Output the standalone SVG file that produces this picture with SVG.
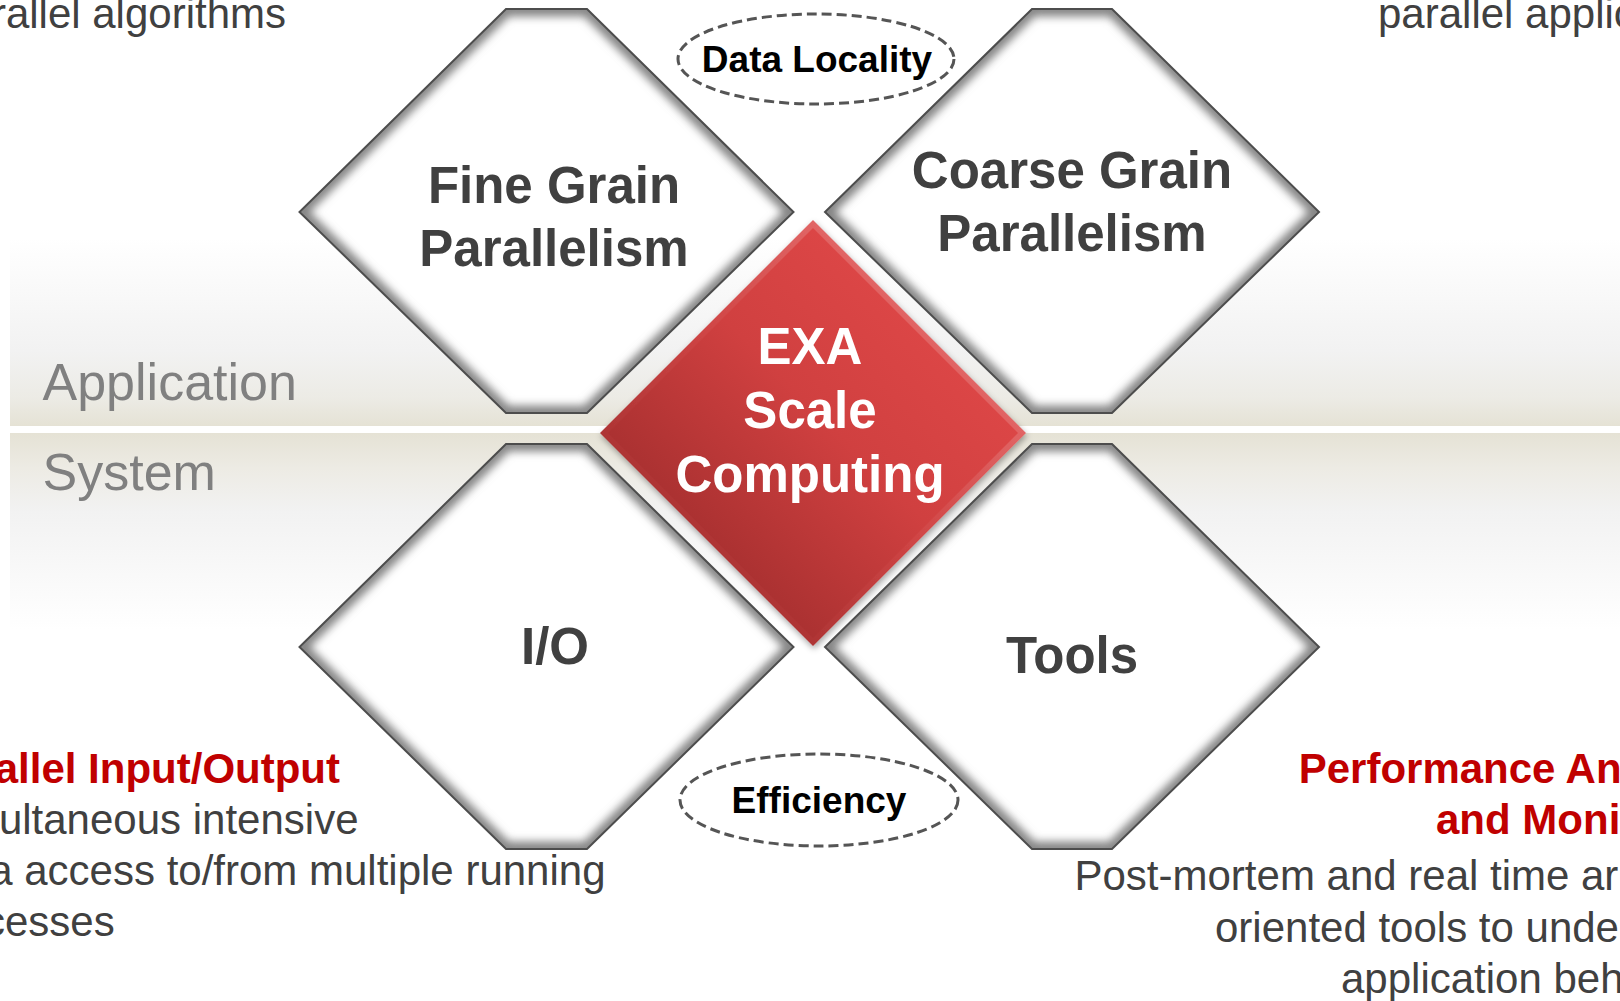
<svg xmlns="http://www.w3.org/2000/svg" width="1620" height="1001" viewBox="0 0 1620 1001">
<defs>
<linearGradient id="bandTop" x1="0" y1="0" x2="0" y2="1">
<stop offset="0" stop-color="#ffffff"/>
<stop offset="0.6" stop-color="#f2f2f2"/>
<stop offset="0.85" stop-color="#ecebe5"/>
<stop offset="1" stop-color="#e5e2d5"/>
</linearGradient>
<linearGradient id="bandBot" x1="0" y1="0" x2="0" y2="1">
<stop offset="0" stop-color="#e5e2d5"/>
<stop offset="0.18" stop-color="#edebe4"/>
<stop offset="0.4" stop-color="#f2f2f2"/>
<stop offset="1" stop-color="#ffffff"/>
</linearGradient>
<linearGradient id="redMain" x1="0.8" y1="0.2" x2="0.2" y2="0.8">
<stop offset="0" stop-color="#de4747"/>
<stop offset="0.45" stop-color="#d04040"/>
<stop offset="1" stop-color="#a52f2f"/>
</linearGradient>
<linearGradient id="redBevel" x1="1" y1="0" x2="0" y2="1">
<stop offset="0" stop-color="#f28585"/>
<stop offset="0.5" stop-color="#d04545"/>
<stop offset="1" stop-color="#8c2424"/>
</linearGradient>
<filter id="soft" x="-10%" y="-10%" width="120%" height="120%">
<feGaussianBlur stdDeviation="4"/>
</filter>
<filter id="drop" x="-10%" y="-10%" width="120%" height="120%">
<feDropShadow dx="1" dy="3" stdDeviation="3" flood-color="#000000" flood-opacity="0.35"/>
</filter>
<polygon id="hexFine" points="506,9 587,9 793.5,212 587,413 506,413 299.5,212"/>
<polygon id="hexCoarse" points="1032,9 1112,9 1319,212 1112,413 1032,413 825,212"/>
<polygon id="hexIO" points="506,444 587,444 793.5,647 587,849 506,849 299.5,647"/>
<polygon id="hexTools" points="1032,444 1112,444 1319,647 1112,849 1032,849 825,647"/>
<clipPath id="cFine"><use href="#hexFine"/></clipPath>
<clipPath id="cCoarse"><use href="#hexCoarse"/></clipPath>
<clipPath id="cIO"><use href="#hexIO"/></clipPath>
<clipPath id="cTools"><use href="#hexTools"/></clipPath>
</defs>
<style>
.hexFill{fill:#ffffff}
.hexShade{fill:none;stroke:#858585;stroke-width:15;filter:url(#soft)}
.hexLine{fill:none;stroke:#4d4d4d;stroke-width:2}
.hexText{font-family:"Liberation Sans",Arial,sans-serif;font-weight:bold;font-size:51px;fill:#404040;text-anchor:middle}
.exaText{font-family:"Liberation Sans",Arial,sans-serif;font-weight:bold;font-size:51px;fill:#ffffff;text-anchor:middle}
.ell{fill:none;stroke:#555555;stroke-width:3;stroke-dasharray:10 5}
.ellText{font-family:"Liberation Sans",Arial,sans-serif;font-weight:bold;font-size:37px;fill:#000000;text-anchor:middle}
.side{font-family:"Liberation Sans",Arial,sans-serif;font-size:52px;fill:#808080}
.body{font-family:"Liberation Sans",Arial,sans-serif;font-size:42px;fill:#404040}
.head{font-family:"Liberation Sans",Arial,sans-serif;font-weight:bold;font-size:42px;fill:#c00000}
.end{text-anchor:end}
</style>
<rect width="1620" height="1001" fill="#ffffff"/>
<g id="bands">
<rect x="10" y="238" width="1610" height="188" fill="url(#bandTop)"/>
<rect x="10" y="433" width="1610" height="197" fill="url(#bandBot)"/>
<text class="side" x="42.5" y="400">Application</text>
<text class="side" x="42.5" y="490">System</text>
</g>
<g id="connectors"/>
<g id="node-fine">
<use href="#hexFine" class="hexFill"/>
<g clip-path="url(#cFine)"><use href="#hexFine" class="hexShade"/></g>
<use href="#hexFine" class="hexLine"/>
<text class="hexText" x="554" y="203">Fine Grain</text>
<text class="hexText" x="554" y="266">Parallelism</text>
</g>
<g id="node-coarse">
<use href="#hexCoarse" class="hexFill"/>
<g clip-path="url(#cCoarse)"><use href="#hexCoarse" class="hexShade"/></g>
<use href="#hexCoarse" class="hexLine"/>
<text class="hexText" x="1072" y="188">Coarse Grain</text>
<text class="hexText" x="1072" y="251">Parallelism</text>
</g>
<g id="node-io">
<use href="#hexIO" class="hexFill"/>
<g clip-path="url(#cIO)"><use href="#hexIO" class="hexShade"/></g>
<use href="#hexIO" class="hexLine"/>
<text class="hexText" x="555" y="664">I/O</text>
</g>
<g id="node-tools">
<use href="#hexTools" class="hexFill"/>
<g clip-path="url(#cTools)"><use href="#hexTools" class="hexShade"/></g>
<use href="#hexTools" class="hexLine"/>
<text class="hexText" x="1072" y="673">Tools</text>
</g>
<g id="node-exa">
<polygon filter="url(#drop)" fill="url(#redBevel)" points="813,220 1026,433 813,646 600,433"/>
<polygon fill="url(#redMain)" points="813,228 1018,433 813,638 608,433"/>
<text class="exaText" x="810" y="364">EXA</text>
<text class="exaText" x="810" y="428">Scale</text>
<text class="exaText" x="810" y="492">Computing</text>
</g>
<g id="node-data-locality">
<ellipse class="ell" cx="816" cy="59" rx="138" ry="45"/>
<text class="ellText" x="817" y="72">Data Locality</text>
</g>
<g id="node-efficiency">
<ellipse class="ell" cx="819" cy="800" rx="139" ry="46"/>
<text class="ellText" x="819" y="813">Efficiency</text>
</g>
<g id="top-texts">
<text class="body end" x="286" y="28">rallel algorithms</text>
<text class="body" x="1378" y="28">parallel applic</text>
</g>
<g id="io-description">
<text class="head end" x="340" y="783">allel Input/Output</text>
<text class="body end" x="358.5" y="834">ultaneous intensive</text>
<text class="body end" x="605.5" y="885">a access to/from multiple running</text>
<text class="body end" x="114.7" y="936">cesses</text>
</g>
<g id="tools-description">
<text class="head" x="1298.7" y="783">Performance An</text>
<text class="head" x="1436" y="834">and Moni</text>
<text class="body" x="1074.5" y="890">Post-mortem and real time ar</text>
<text class="body" x="1215" y="942">oriented tools to unde</text>
<text class="body" x="1341" y="993">application beh</text>
</g>
</svg>
